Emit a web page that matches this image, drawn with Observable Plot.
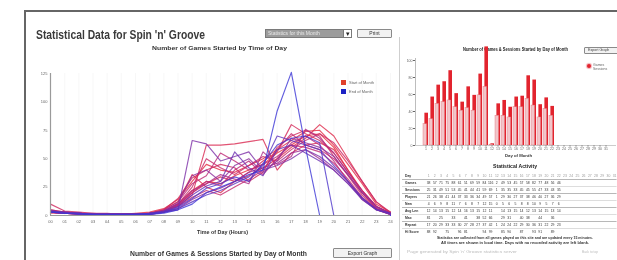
<!DOCTYPE html>
<html><head><meta charset="utf-8">
<script src="https://cdn.jsdelivr.net/npm/d3@7"></script>
<script src="https://cdn.jsdelivr.net/npm/@observablehq/plot@0.6"></script>
<style>
body{margin:0;background:#fff;font-family:"Liberation Sans",Arial,sans-serif;}
#page{position:relative;width:617px;height:260px;overflow:hidden;background:#fff;filter:blur(0.3px);}
.abs{position:absolute;}
.t{position:absolute;white-space:nowrap;transform-origin:0 50%;}
.btn{position:absolute;box-sizing:border-box;border:1px solid #8a8a8a;background:#f2f2f2;border-radius:1px;}
svg{display:block;overflow:visible;}
</style></head><body><div id="page"></div>
<script>
// ---------- DATA ----------
const hourLabels = ["00","01","02","03","04","05","06","07","08","09","10","11","12","13","14","15","16","17","18","19","20","21","22","23","24"];
const lineYTicks = [0,25,50,75,100,125];
// games started per hour, one series per day of the month (red = start, blue = end)
const gamesByHour = [
  [4,2,2,1,1,1,1,2,4,10,22,30,28,35,40,45,55,62,70,72,60,40,22,8,2],
  [3,2,1,1,1,1,2,3,6,14,30,45,40,38,44,50,58,66,74,75,62,45,28,10,3],
  [5,3,2,1,1,1,1,2,5,12,36,25,20,30,35,42,50,60,68,80,70,50,30,12,2],
  [2,2,1,1,1,1,1,2,4,8,18,62,62,63,65,67,40,55,62,64,58,40,20,6,1],
  [3,2,2,1,1,1,1,2,3,9,20,28,34,30,38,48,56,80,72,66,55,38,22,8,2],
  [10,4,3,2,2,1,1,2,5,15,33,40,45,42,30,38,60,70,75,70,52,35,18,6,2],
  [4,3,2,1,1,1,1,2,4,10,25,50,42,36,44,52,48,58,66,72,64,48,30,12,3],
  [3,2,2,1,1,1,1,1,3,8,16,22,18,25,32,40,58,72,62,58,50,36,20,7,2],
  [4,3,2,2,1,1,1,2,5,12,28,35,55,48,40,45,52,62,60,56,46,32,16,5,1],
  [3,2,2,1,1,1,1,1,4,9,20,30,26,40,48,36,50,64,70,62,48,30,14,5,1],
  [5,3,2,1,1,1,1,2,4,10,22,28,36,32,28,56,45,52,76,68,55,38,22,8,2],
  [3,2,1,1,1,1,1,2,3,6,14,20,24,30,38,42,46,55,58,50,40,28,15,6,2],
  [4,3,2,1,1,1,1,2,4,11,35,40,30,44,50,38,48,68,64,60,52,36,20,8,2],
  [3,2,2,1,1,1,1,1,3,5,66,63,48,52,56,40,44,50,58,52,42,30,16,6,1],
  [4,3,2,1,1,1,1,2,4,8,18,26,30,56,42,35,58,62,55,48,40,28,14,5,1],
  [3,2,2,1,1,1,1,1,3,6,12,18,22,28,34,44,70,66,62,58,44,30,15,5,2],
  [4,2,2,1,1,1,1,2,3,7,15,24,28,34,30,46,62,68,70,64,0,0,0,0,0],
  [3,2,1,1,1,1,1,1,2,5,10,20,25,30,36,40,92,126,60,0,0,0,0,0,0]
];
const legendLabels = ["Start of Month","End of Month"];

const dayLabels = ["1","2","3","4","5","6","7","8","9","10","11","12","13","14","15","16","17","18","19","20","21","22","23","24","25","26","27","28","29","30","31"];
const barYTicks = [0,20,40,60,80,100];
const gamesByDay    = [38,57,71,75,88,61,51,69,59,84,116,2,49,53,45,57,58,82,77,48,56,46];
const sessionsByDay = [25,31,49,51,53,45,41,44,41,59,69,1,35,35,33,45,45,55,47,33,43,35];
const barLegend = ["Games","Sessions"];

const tableRows = ["Games","Sessions","Players","New","Avg Len","Max","Repeat","Hi Score"];
const playersByDay = [21,26,38,41,44,37,33,36,34,49,57,1,29,30,27,37,38,46,40,27,36,29];
const newByDay     = [4,6,9,8,11,7,6,8,7,12,15,0,5,6,5,8,8,10,9,5,7,6];
const avgLenByDay  = [12,14,13,15,12,14,16,13,15,12,11,"",14,13,15,14,12,13,14,15,13,14];
const maxByDay     = [81,"",25,"",33,"",41,"",38,52,66,"",29,31,"",40,38,"",44,"",36,""];
const repeatByDay  = [17,20,29,33,33,30,27,28,27,37,42,1,24,24,22,29,30,36,31,22,29,23];
const hiScoreByDay = [88,92,"",75,"",96,81,"","",94,99,"",85,90,"",87,"",93,91,"",89,""];
const footerLines = [
  "Statistics are collected from all games played on this site and are updated every 15 minutes.",
  "All times are shown in local time. Days with no recorded activity are left blank."
];

// ---------- LAYOUT HELPERS ----------
const page = document.getElementById("page");
function box(x, y, w, h, css) { const d = document.createElement("div"); d.className = "abs";
  Object.assign(d.style, {left: x+"px", top: y+"px", width: w+"px", height: h+"px"}, css || {}); page.appendChild(d); return d; }
function label(text, o) {
  const d = document.createElement("div"); d.className = "t"; d.textContent = text;
  d.style.fontSize = o.fs + "px"; d.style.lineHeight = o.fs + "px";
  d.style.fontWeight = o.bold ? "bold" : "normal"; d.style.color = o.color || "#222";
  if (o.font) d.style.fontFamily = o.font;
  page.appendChild(d);
  const nat = d.getBoundingClientRect().width;
  const w = o.w || nat;
  const x = o.cx != null ? o.cx - w / 2 : o.x;
  d.style.left = x + "px"; d.style.top = (o.cy - o.fs / 2) + "px";
  if (o.w) d.style.transform = `scaleX(${o.w / nat})`;
  return d;
}
function place(svg, x, y) { svg.style.position = "absolute"; svg.style.left = x + "px"; svg.style.top = y + "px"; page.appendChild(svg); }

// frame
box(25, 10, 600, 2, {background: "#666"});
box(24, 10, 2, 260, {background: "#666"});
box(399, 37, 1, 230, {background: "#cfcfcf"});

// header
label("Statistical Data for Spin 'n' Groove", {x: 36, cy: 35, w: 169, fs: 12, bold: true, color: "#3a3a3a"});
box(265, 29, 87, 9, {background: "#9c9c9c", border: "1px solid #7a7a7a", boxSizing: "border-box"});
label("Statistics for this Month", {x: 268, cy: 33.5, fs: 5, color: "#e8e8e8"});
box(343, 29, 9, 9, {background: "#fff", border: "1px solid #7a7a7a", boxSizing: "border-box"});
label("▾", {cx: 347.5, cy: 33.5, fs: 7, color: "#222"});
const pb = document.createElement("div"); pb.className = "btn"; Object.assign(pb.style, {left: "357px", top: "29px", width: "35px", height: "9px"}); page.appendChild(pb);
label("Print", {cx: 374.5, cy: 33.5, fs: 5, color: "#333"});

// ---------- LINE CHART ----------
label("Number of Games Started by Time of Day", {cx: 219, cy: 47.5, w: 135, fs: 6, bold: true, color: "#333"});
const lineRows = [];
gamesByHour.forEach((vals, day) => vals.forEach((v, h) => lineRows.push({day, hour: h, v})));
const nDays = gamesByHour.length - 1;
const lineChart = Plot.plot({
  width: 372, height: 185, marginLeft: 25, marginRight: 7, marginTop: 18, marginBottom: 25,
  style: {fontSize: "4px", fontFamily: "Liberation Sans, Arial, sans-serif", color: "#666", background: "transparent"},
  x: {domain: [0, 24], ticks: hourLabels.map((_, i) => i), tickFormat: i => hourLabels[i], tickSize: 0, tickPadding: 5, label: null, grid: true},
  y: {domain: [0, 125], ticks: lineYTicks, tickSize: 0, tickPadding: 3, label: null},
  color: {type: "linear", domain: [0, nDays * 0.55, nDays], range: ["#e8283a", "#b8287e", "#3c36d6"], interpolate: "rgb"},
  marks: [
    Plot.line(lineRows, {x: "hour", y: "v", z: "day", stroke: "day", strokeWidth: 1.15, strokeOpacity: 0.8}),
    Plot.ruleY([0], {stroke: "#9a9a9a", strokeWidth: 1.2}),
    Plot.ruleX([0], {stroke: "#9a9a9a", strokeWidth: 1.2})
  ]
});
lineChart.querySelectorAll("[aria-label='x-grid'] line, g[aria-label='x-grid'] path").forEach(e => e.setAttribute("stroke-opacity", "0.05"));
place(lineChart, 25, 55);
// legend
const lcol = ["#e0402a", "#1c22c4"];
legendLabels.forEach((t, i) => {
  box(341, 80 + i * 9, 5, 5, {background: lcol[i]});
  label(t, {x: 349, cy: 82.5 + i * 9, fs: 4, color: "#666"});
});
label("Time of Day (Hours)", {cx: 222, cy: 232, w: 51, fs: 5, bold: true, color: "#333"});

// bottom section title
label("Number of Games & Sessions Started by Day of Month", {cx: 218, cy: 253, w: 177, fs: 7, bold: true, color: "#333"});
const eb = document.createElement("div"); eb.className = "btn"; Object.assign(eb.style, {left: "333px", top: "248px", width: "59px", height: "10px"}); page.appendChild(eb);
label("Export Graph", {cx: 362.5, cy: 253, fs: 5, color: "#333"});

// ---------- BAR CHART ----------
label("Number of Games & Sessions Started by Day of Month", {cx: 515, cy: 50.5, w: 105, fs: 4.5, bold: true, color: "#222"});
const eb2 = document.createElement("div"); eb2.className = "btn"; Object.assign(eb2.style, {left: "584px", top: "47px", width: "36px", height: "7px"}); page.appendChild(eb2);
label("Export Graph", {x: 588, cy: 50.5, fs: 3.6, color: "#444"});
const barRows = gamesByDay.map((g, i) => ({day: dayLabels[i], games: g, sessions: sessionsByDay[i]}));
const barChart = Plot.plot({
  width: 217, height: 125, marginLeft: 15, marginRight: 1, marginTop: 3, marginBottom: 20,
  style: {fontSize: "3.5px", fontFamily: "Liberation Sans, Arial, sans-serif", color: "#666", background: "transparent"},
  x: {type: "band", domain: dayLabels, paddingInner: 0.1, paddingOuter: 0.05, tickSize: 1.5, tickPadding: 0.5, label: null},
  y: {domain: [0, 120], ticks: barYTicks, tickSize: 2, tickPadding: 1, label: null},
  marks: [
    Plot.barY(barRows, {x: "day", y: "games", fill: "#e2242e", insetLeft: 1.4}),
    Plot.barY(barRows, {x: "day", y: "sessions", fill: "#f1c6ca", stroke: "#e46a72", strokeWidth: 0.4, insetRight: 1.4}),
    Plot.ruleY([0], {stroke: "#aaa", strokeWidth: 0.6})
  ]
});
place(barChart, 400, 40);
box(415, 58, 1, 87, {background: "#bdbdbd"});
box(587, 64, 4, 4, {background: "#e2242e", borderRadius: "2px", boxShadow: "0 0 1px 1px #f3b0b6"});
label(barLegend[0], {x: 593, cy: 65.3, fs: 3.5, color: "#666"});
label(barLegend[1], {x: 593, cy: 69.3, fs: 3.5, color: "#666"});
label("Day of Month", {cx: 518, cy: 155.5, w: 27, fs: 4, bold: true, color: "#333"});

// ---------- TABLE ----------
label("Statistical Activity", {cx: 515, cy: 166, w: 44, fs: 5, bold: true, color: "#222"});
const rowVals = [gamesByDay, sessionsByDay, playersByDay, newByDay, avgLenByDay, maxByDay, repeatByDay, hiScoreByDay];
const yRows = ["Day", ...tableRows];
const cells = [];
dayLabels.forEach((d, i) => cells.push({row: "Day", col: i + 1, text: d, head: true}));
rowVals.forEach((vals, r) => vals.forEach((v, i) => cells.push({row: tableRows[r], col: i + 1, text: String(v), head: false})));
const table = Plot.plot({
  width: 217, height: 70, marginLeft: 0, marginRight: 0, marginTop: 3, marginBottom: 3,
  style: {fontFamily: "Liberation Sans, Arial, sans-serif", background: "transparent"},
  x: {domain: [-3.53, 31.47], axis: null},
  y: {type: "band", domain: yRows, padding: 0, axis: null},
  marks: [
    Plot.ruleY(yRows.slice(0, -1), {y: d => d, dy: 3.5, x1: -3.2, x2: 31.4, stroke: (d, i) => i % 2 ? "#cfcfcf" : "#9a9a9a", strokeWidth: 0.7}),
    Plot.text(cells, {x: "col", y: "row", text: "text", fontSize: 3.4, fill: d => d.head ? "#9a9a9a" : "#333", fontWeight: d => d.head ? "normal" : "bold"}),
    Plot.text(yRows, {x: -2.8, y: d => d, text: d => d, textAnchor: "start", fontSize: 3.4, fontWeight: "bold", fill: "#333"})
  ]
});
place(table, 400, 168);
footerLines.forEach((t, i) => label(t, {cx: 515, cy: 238 + i * 5, w: i ? 148 : 156, fs: 4, bold: true, color: "#333"}));
label("Page generated by Spin 'n' Groove statistics server", {x: 407, cy: 253, w: 110, fs: 3.5, color: "#bbb"});
label("Back to top", {x: 582, cy: 253, w: 16, fs: 3.5, color: "#bbb"});
</script></body></html>
